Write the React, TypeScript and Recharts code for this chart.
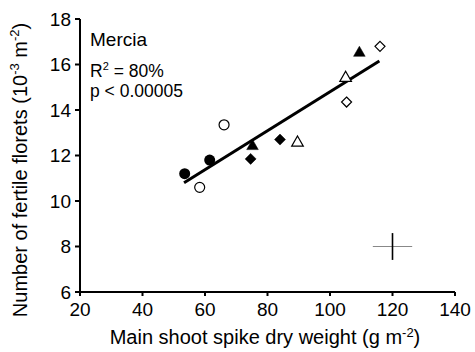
import React from 'react';
import { ScatterChart, Scatter, XAxis, YAxis, ErrorBar } from 'recharts';

const xTicks = [20, 40, 60, 80, 100, 120, 140];
const yTicks = [6, 8, 10, 12, 14, 16, 18];

const filledCircle = [{ x: 53.5, y: 11.2 }, { x: 61.5, y: 11.8 }];
const openCircle = [{ x: 58.3, y: 10.6 }, { x: 66.1, y: 13.35 }];
const filledTriangle = [{ x: 75.2, y: 12.45 }, { x: 109.4, y: 16.55 }];
const openTriangle = [{ x: 89.6, y: 12.6 }, { x: 105, y: 15.45 }];
const filledDiamond = [{ x: 74.6, y: 11.85 }, { x: 84, y: 12.7 }];
const openDiamond = [{ x: 105.3, y: 14.35 }, { x: 116, y: 16.8 }];
const regression = [{ x: 53.3, y: 10.8 }, { x: 115.8, y: 16.15 }];
const errorCross = [{ x: 120, y: 8, ex: 6.3, ey: 0.59 }];

const FONT = '"Liberation Sans", Arial, sans-serif';

const Circle = (filled: boolean) => (p: any) => (
  <circle cx={p.cx} cy={p.cy} r={filled ? 5.5 : 5} fill={filled ? '#000' : '#fff'} stroke="#000" strokeWidth={filled ? 0 : 1.2} />
);
const Tri = (filled: boolean) => (p: any) => {
  const s = 5.8;
  const pts = `${p.cx},${p.cy - s} ${p.cx + s},${p.cy + s * 0.75} ${p.cx - s},${p.cy + s * 0.75}`;
  return <polygon points={pts} fill={filled ? '#000' : '#fff'} stroke="#000" strokeWidth={filled ? 0.5 : 1.2} />;
};
const Dia = (filled: boolean) => (p: any) => {
  const s = filled ? 5.5 : 5;
  const pts = `${p.cx},${p.cy - s} ${p.cx + s},${p.cy} ${p.cx},${p.cy + s} ${p.cx - s},${p.cy}`;
  return <polygon points={pts} fill={filled ? '#000' : '#fff'} stroke="#000" strokeWidth={filled ? 0.5 : 1.2} />;
};
const Empty = () => <g />;

export default function App() {
  return (
    <div style={{ position: 'absolute', left: 0, top: 0, fontFamily: FONT }}>
      <ScatterChart width={475} height={352} margin={{ top: 19, right: 20, bottom: 0, left: 0 }}>
        <XAxis
          type="number"
          dataKey="x"
          domain={[20, 140]}
          ticks={xTicks}
          axisLine={{ stroke: '#000', strokeWidth: 2 }}
          tickLine={{ stroke: '#000', strokeWidth: 2 }}
          tickSize={4}
          tickMargin={7}
          height={60}
          tick={{ fill: '#000', fontSize: 19, fontFamily: FONT }}
          interval={0}
        />
        <YAxis
          type="number"
          dataKey="y"
          domain={[6, 18]}
          ticks={yTicks}
          axisLine={{ stroke: '#000', strokeWidth: 2 }}
          tickLine={{ stroke: '#000', strokeWidth: 2 }}
          tickSize={5}
          tickMargin={4}
          width={80}
          tick={{ fill: '#000', fontSize: 19, fontFamily: FONT }}
          interval={0}
        />
        <Scatter data={regression} line={{ stroke: '#000', strokeWidth: 3 }} shape={Empty} isAnimationActive={false} />
        <Scatter data={errorCross} shape={Empty} isAnimationActive={false}>
          <ErrorBar dataKey="ex" direction="x" width={0} stroke="#888" strokeWidth={1.2} />
          <ErrorBar dataKey="ey" direction="y" width={0} stroke="#000" strokeWidth={1.6} />
        </Scatter>
        <Scatter data={filledCircle} shape={Circle(true)} isAnimationActive={false} />
        <Scatter data={openCircle} shape={Circle(false)} isAnimationActive={false} />
        <Scatter data={filledTriangle} shape={Tri(true)} isAnimationActive={false} />
        <Scatter data={openTriangle} shape={Tri(false)} isAnimationActive={false} />
        <Scatter data={filledDiamond} shape={Dia(true)} isAnimationActive={false} />
        <Scatter data={openDiamond} shape={Dia(false)} isAnimationActive={false} />
        <g fontFamily={FONT} fill="#000">
          <text x={90} y={46} fontSize={19}>Mercia</text>
          <text x={90} y={77} fontSize={17.5}>
            R<tspan fontSize={11} dy={-7}>2</tspan>
            <tspan dy={7}> = 80%</tspan>
          </text>
          <text x={90} y={97} fontSize={17.5}>p &lt; 0.00005</text>
          <text x={265} y={344} fontSize={20} textAnchor="middle">
            Main shoot spike dry weight (g m<tspan fontSize={13} dy={-7}>-2</tspan>
            <tspan dy={7}>)</tspan>
          </text>
          <text x={27} y={170} fontSize={20} textAnchor="middle" transform="rotate(-90, 27, 170)">
            Number of fertile florets (10<tspan fontSize={13} dy={-8}>-3</tspan>
            <tspan dy={8}> m</tspan>
            <tspan fontSize={13} dy={-8}>-2</tspan>
            <tspan dy={8}>)</tspan>
          </text>
        </g>
      </ScatterChart>
    </div>
  );
}
